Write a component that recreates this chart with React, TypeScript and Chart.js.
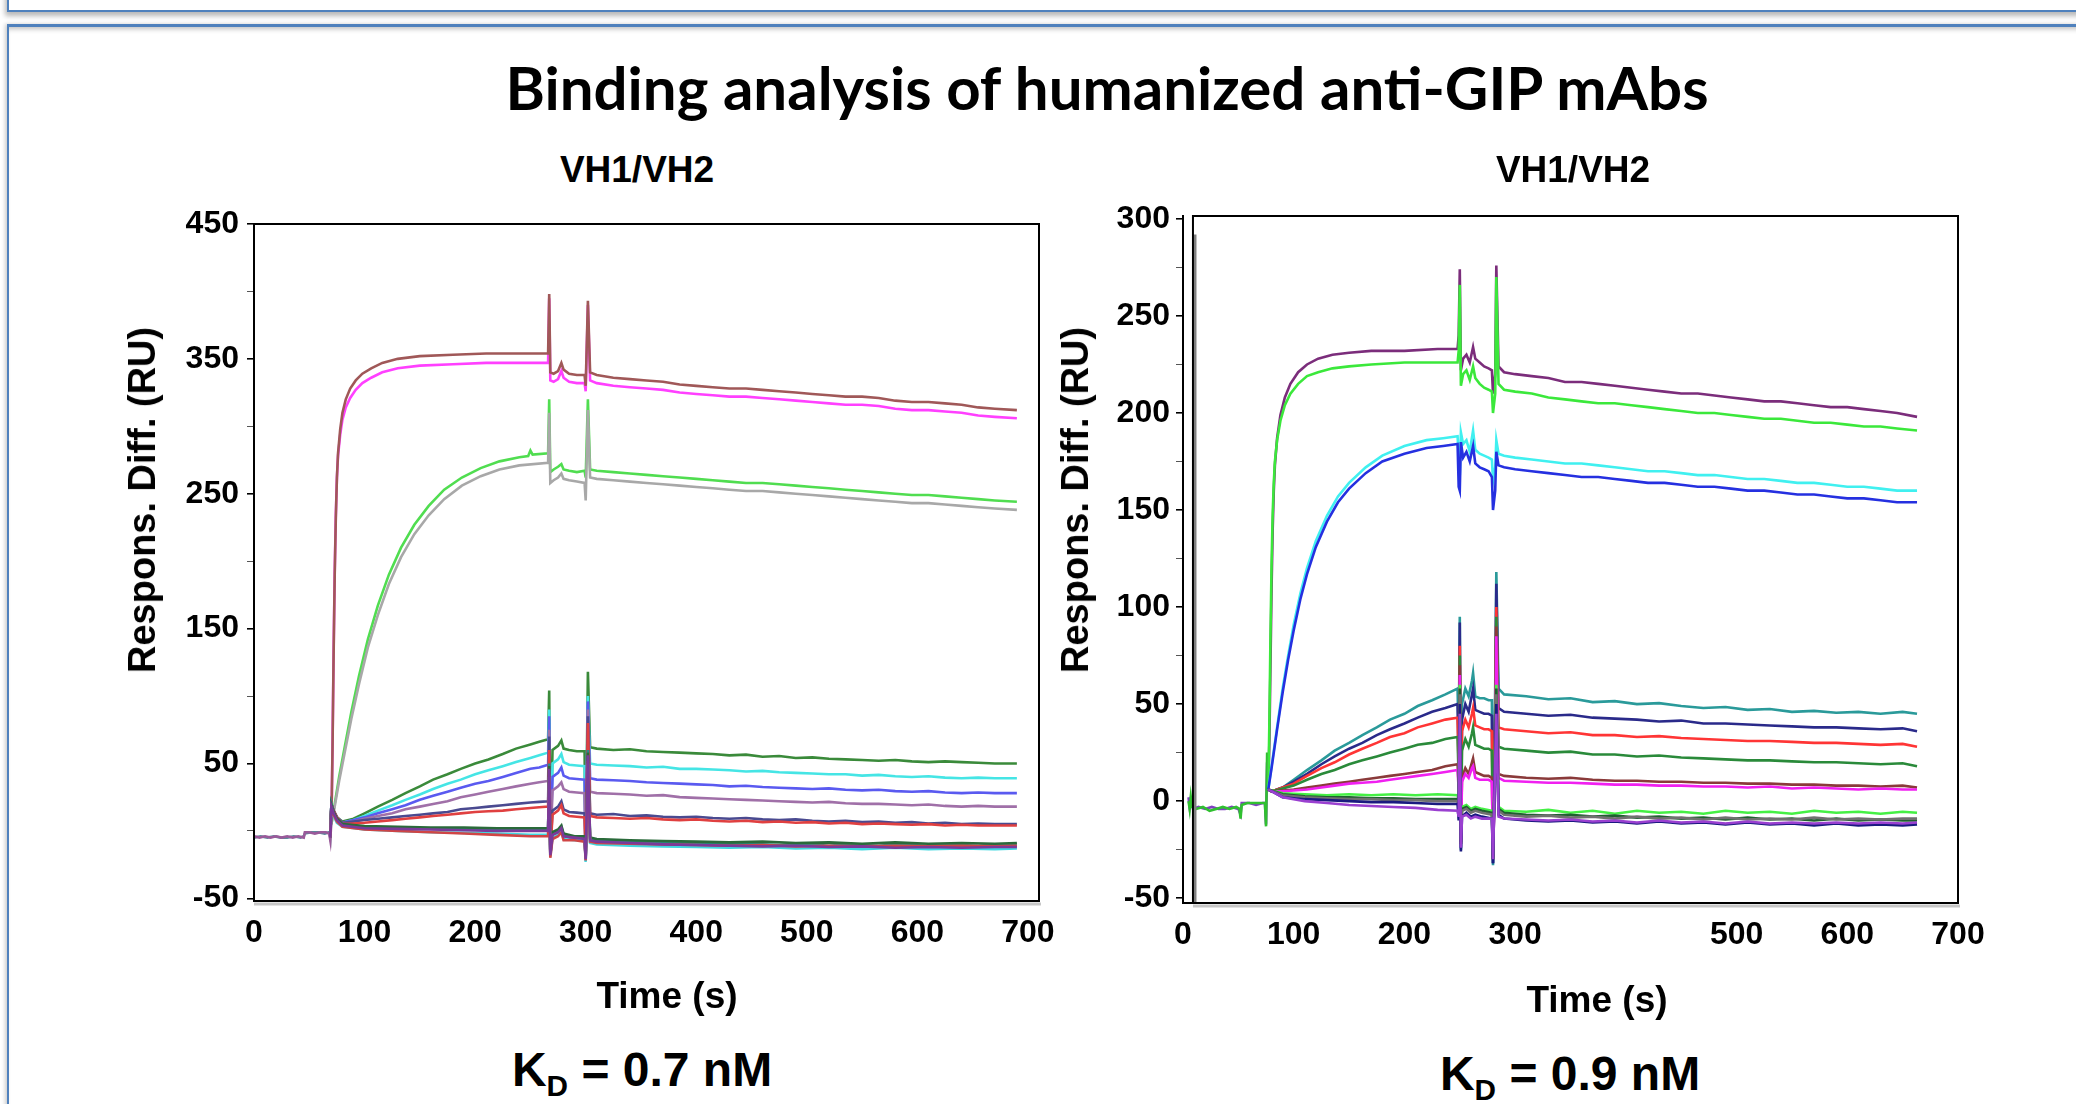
import React, { useEffect, useRef } from "react";
import { Chart, registerables } from "chart.js";
Chart.register(...registerables);

type P = [number, number];

// ================= LEFT PANEL (KD = 0.7 nM) =================
const leftXTicks = [0, 100, 200, 300, 400, 500, 600, 700];
const leftYTicks = [-50, 50, 150, 250, 350, 450];
const leftYMinorTicks = [0, 100, 200, 300, 400];

const L_baseA: P[] = [[0,-4],[5,-5],[10,-4],[15,-5],[20,-4],[25,-5],[30,-4],[35,-5],[40,-4],[45,-5],[46,-1],[50,-1],[55,-2],[60,-1],[65,-1],[68,-2],[69,-7],[70,8]];
const L_baseB: P[] = [[0,-5],[6,-4],[12,-5],[18,-4],[24,-5],[30,-5],[36,-4],[42,-5],[45,-4],[46,-2],[52,-1],[58,-1],[64,-2],[68,-1],[69,-5],[70,12]];

const L_brown: P[] = [[70,5],[71,60],[72,130],[73,190],[74,232],[75,262],[76,280],[78,298],[80,310],[83,320],[87,328],[92,334],[98,339],[106,343],[116,347],[130,350],[150,352],[180,353],[210,354],[240,354],[266,354],[267,398],[268,340],[271,339],[275,341],[278,347],[280,342],[285,339],[292,338],[299,338],[300,330],[302,393],[304,340],[310,338],[325,336],[340,335],[355,334],[370,333],[385,331],[400,330],[415,329],[430,328],[445,328],[460,327],[475,326],[490,325],[505,324],[520,323],[535,322],[550,322],[565,321],[580,319],[595,318],[610,318],[625,317],[640,316],[655,314],[670,313],[690,312]];
const L_magenta: P[] = [[70,5],[71,62],[72,133],[73,192],[74,234],[75,262],[76,278],[78,294],[80,305],[83,314],[87,321],[92,327],[98,332],[106,336],[116,340],[130,343],[150,345],[180,346],[210,347],[240,347],[266,347],[267,395],[268,334],[271,333],[275,335],[278,341],[280,336],[285,333],[292,332],[299,332],[300,326],[302,390],[304,334],[310,332],[325,330],[340,329],[355,328],[370,327],[385,325],[400,324],[415,323],[430,322],[445,322],[460,321],[475,320],[490,319],[505,318],[520,317],[535,316],[550,316],[565,315],[580,313],[595,312],[610,312],[625,311],[640,310],[655,308],[670,307],[690,306]];
const L_green: P[] = [[70,5],[73,20],[77,40],[82,62],[88,88],[95,115],[103,142],[112,167],[122,190],[133,210],[145,227],[158,241],[172,253],[188,262],[205,269],[222,274],[240,277],[248,278],[250,282],[252,279],[266,280],[267,320],[268,266],[271,268],[275,270],[278,272],[280,268],[285,267],[292,266],[299,267],[300,262],[302,320],[304,268],[310,267],[325,266],[340,265],[355,264],[370,263],[385,262],[400,261],[415,260],[430,259],[445,258],[460,258],[475,257],[490,256],[505,255],[520,254],[535,253],[550,252],[565,251],[580,250],[595,249],[610,249],[625,248],[640,247],[655,246],[670,245],[690,244]];
const L_gray: P[] = [[70,5],[73,18],[77,37],[82,58],[88,83],[95,109],[103,136],[112,160],[122,183],[133,203],[145,220],[158,234],[172,246],[188,256],[205,263],[222,268],[240,271],[266,273],[267,310],[268,258],[271,260],[275,262],[278,265],[280,261],[285,260],[292,259],[299,258],[300,245],[302,312],[304,262],[310,261],[325,260],[340,259],[355,258],[370,257],[385,256],[400,255],[415,254],[430,253],[445,252],[460,252],[475,251],[490,250],[505,249],[520,248],[535,247],[550,246],[565,245],[580,244],[595,243],[610,243],[625,242],[640,241],[655,240],[670,239],[690,238]];

const L_dkgreen: P[] = [[69,-5],[70,20],[72,15],[75,10],[80,7],[90,9],[100,13],[112,18],[125,23],[137,28],[150,33],[162,38],[175,42],[187,46],[200,50],[212,53],[225,57],[237,61],[250,64],[258,66],[266,68],[267,104],[268,-14],[270,60],[275,63],[278,67],[280,61],[285,60],[292,59],[299,59],[300,-18],[302,118],[304,62],[310,61],[325,60],[340,60.5],[355,59],[370,58.5],[385,58],[400,57.5],[415,57],[430,56],[445,56.5],[460,55],[475,55.5],[490,54],[505,54.5],[520,53.5],[535,53],[550,52.5],[565,52],[580,52.5],[595,51.5],[610,51],[625,51.5],[640,51],[655,50.5],[670,50],[690,50]];
const L_cyan: P[] = [[69,-5],[70,20],[72,15],[75,10],[80,6],[90,8],[100,11],[112,15],[125,19],[137,23],[150,27],[162,31],[175,35],[187,38],[200,42],[212,45],[225,48],[237,51],[250,54],[258,56],[266,58],[267,90],[268,-16],[270,50],[275,53],[278,57],[280,51],[285,49],[292,48.5],[299,48],[300,-20],[302,100],[304,50],[310,49],[325,48.5],[340,48],[355,47],[370,47.5],[385,46],[400,46],[415,45.5],[430,45],[445,44],[460,44.5],[475,43.5],[490,43],[505,42.5],[520,42],[535,42],[550,41],[565,41.5],[580,40.5],[595,40],[610,40.5],[625,39.5],[640,39],[655,39.5],[670,39],[690,39]];
const L_blue: P[] = [[69,-5],[70,20],[72,15],[75,10],[80,6],[90,8],[100,10],[112,13],[125,16],[137,19],[150,23],[162,26],[175,29],[187,32],[200,35],[212,37],[225,40],[237,43],[250,46],[258,47],[266,49],[267,85],[268,-15],[270,40],[275,43],[278,47],[280,41],[285,39],[292,38.5],[299,38],[300,-19],[302,96],[304,39],[310,38],[325,37.5],[340,37],[355,36],[370,35.5],[385,35],[400,34.5],[415,34],[430,33],[445,33.5],[460,32.5],[475,32],[490,31.5],[505,31],[520,31.5],[535,30.5],[550,30],[565,30.5],[580,29.5],[595,29],[610,29.5],[625,28.5],[640,28],[655,28.5],[670,28],[690,28]];
const L_purple: P[] = [[69,-5],[70,20],[72,15],[75,10],[80,6],[90,7],[100,9],[112,11],[125,13],[137,16],[150,18],[162,20],[175,22],[187,25],[200,27],[212,29],[225,31],[237,33],[250,35],[258,36],[266,37],[267,75],[268,-15],[270,30],[275,33],[278,36],[280,31],[285,29],[292,28.5],[299,28],[300,-19],[302,90],[304,29],[310,28],[325,27.5],[340,27],[355,26],[370,26.5],[385,25],[400,24.5],[415,24],[430,23.5],[445,23],[460,22.5],[475,22],[490,21.5],[505,21],[520,21.5],[535,20.5],[550,20],[565,20],[580,19.5],[595,19],[610,19.5],[625,18.5],[640,18],[655,18.5],[670,18],[690,18]];
const L_navy: P[] = [[69,-5],[70,20],[72,15],[75,10],[80,6],[90,7],[100,8],[112,9],[125,10],[137,11],[150,12],[162,13],[175,14],[187,16],[200,17],[212,18],[225,19],[237,20],[250,21],[258,21.5],[266,22],[267,70],[268,-15],[270,15],[275,18],[278,22],[280,16],[285,14],[292,13.5],[299,13],[300,-19],[302,85],[304,13],[310,12],[325,12.5],[340,11],[355,11.5],[370,10.5],[385,10],[400,10.5],[415,9.5],[430,9],[445,9.5],[460,8.5],[475,8],[490,8.5],[505,7.5],[520,7],[535,7.5],[550,6.5],[565,7],[580,6],[595,6.5],[610,5.5],[625,6],[640,5],[655,5.5],[670,5],[690,5]];
const L_red: P[] = [[69,-5],[70,20],[72,15],[75,10],[80,5],[90,5.5],[100,6],[112,7],[125,8],[137,9],[150,10],[162,11],[175,12],[187,13],[200,14],[212,14.5],[225,15],[237,16],[250,17],[258,17.5],[266,18],[267,60],[268,-17],[270,12],[275,15],[278,19],[280,13],[285,11],[292,10.5],[299,10],[300,-20],[302,80],[304,11],[310,10],[325,9.5],[340,9],[355,9.5],[370,8.5],[385,8],[400,8.5],[415,7.5],[430,7],[445,7.5],[460,6.5],[475,7],[490,6],[505,6.5],[520,5.5],[535,6],[550,5],[565,5.5],[580,5],[595,4.5],[610,5],[625,4],[640,4.5],[655,4],[670,4],[690,4]];

const L_bTeal: P[] = [[69,-5],[70,20],[72,14],[75,9],[80,5],[90,4],[100,3],[125,2.5],[150,2],[175,2],[200,1.5],[225,1],[250,1],[266,1],[267,50],[268,-17],[270,-2],[275,0],[278,3],[280,-3],[285,-4],[292,-5],[299,-5],[300,-21],[302,60],[304,-6],[310,-7],[325,-7.5],[340,-8],[355,-8.5],[370,-9],[385,-8.5],[400,-9.5],[415,-9],[430,-10],[445,-9.5],[460,-10],[475,-10.5],[490,-9.5],[505,-10],[520,-11],[535,-10],[550,-10.5],[565,-11],[580,-10],[595,-10.5],[610,-11],[625,-10],[640,-10.5],[655,-11],[670,-10],[690,-10]];
const L_bMagenta: P[] = [[69,-5],[70,18],[72,13],[75,8],[80,4],[100,2.5],[130,2],[160,1.5],[190,1],[220,0.5],[250,0.5],[266,0.5],[267,45],[268,-18],[270,-3],[275,-1],[278,2],[280,-4],[290,-6],[299,-6],[300,-22],[302,55],[304,-8],[310,-9],[340,-10],[370,-10.5],[400,-11],[430,-11.5],[460,-11],[490,-12],[520,-11.5],[550,-12.5],[580,-11.5],[610,-12.5],[640,-12],[670,-12.5],[690,-12]];
const L_bCyan: P[] = [[69,-5],[70,16],[72,11],[75,6],[80,3],[100,1],[130,0],[160,-1],[190,-1.5],[220,-2],[250,-3],[266,-3],[267,40],[268,-19],[270,-5],[275,-3],[278,0],[280,-6],[290,-7],[299,-7],[300,-23],[302,50],[304,-9],[310,-10],[340,-11],[370,-11.5],[400,-12],[430,-12.5],[460,-12],[490,-13],[520,-12.5],[550,-13.5],[580,-12.5],[610,-13.5],[640,-13],[670,-13.5],[690,-13]];
const L_bDkgreen: P[] = [[69,-5],[70,19],[72,14],[75,9],[80,5],[100,3.5],[130,3],[160,2.5],[190,2.5],[220,2],[250,2],[266,2],[267,48],[268,-16],[270,-1],[275,1],[278,4],[280,-2],[290,-4],[299,-4],[300,-20],[302,58],[304,-5],[310,-6],[340,-7],[370,-7.5],[400,-8],[430,-8.5],[460,-8],[490,-9],[520,-8.5],[550,-9.5],[580,-8.5],[610,-9.5],[640,-9],[670,-9.5],[690,-9]];
const L_bRed: P[] = [[69,-5],[70,17],[72,12],[75,7],[80,3],[100,1],[130,0],[160,-1],[190,-2],[220,-3],[250,-4],[266,-4],[267,42],[268,-20],[270,-6],[275,-4],[278,-1],[280,-7],[290,-7],[299,-8],[300,-22],[302,52],[304,-8],[310,-9],[340,-9.5],[370,-10],[400,-10.5],[430,-11],[460,-10.5],[490,-11.5],[520,-11],[550,-11.5],[580,-11],[610,-11.5],[640,-11],[670,-11.5],[690,-11]];
const L_bPurple: P[] = [[69,-5],[70,18],[72,13],[75,8],[80,4],[100,2],[130,1.5],[160,1],[190,0.5],[220,0],[250,0],[266,0],[267,46],[268,-18],[270,-3],[275,-1],[278,2],[280,-4],[290,-5],[299,-6],[300,-21],[302,56],[304,-7],[310,-8],[340,-9],[370,-10],[400,-10.5],[430,-11],[460,-11.5],[490,-11],[520,-12],[550,-11.5],[580,-12.5],[610,-12],[640,-12.5],[670,-12],[690,-12]];

// ================= RIGHT PANEL (KD = 0.9 nM) =================
const rightXTicks = [0, 100, 200, 300, 500, 600, 700];
const rightYTicks = [-50, 0, 50, 100, 150, 200, 250, 300];
const rightYMinorTicks = [-25, 25, 75, 125, 175, 225, 275];

const R_baseA: P[] = [[5,0],[6,-4],[7,2],[8,-3],[12,-4],[18,-3],[24,-5],[30,-4],[36,-3],[42,-4],[48,-3],[51,-4],[52,-9],[53,-2],[58,-1],[64,-1],[70,-1],[74,-1],[75,-13],[76,25],[77,6]];
const R_baseB: P[] = [[5,2],[6,-3],[7,1],[9,-4],[14,-3],[20,-4],[26,-3],[32,-4],[38,-4],[44,-3],[50,-4],[52,-7],[53,-1],[60,-1],[66,-2],[72,-1],[74,-1],[75,-12],[76,20],[77,5]];
const R_artifact: P[] = [[11,-53],[11,292]];

const R_purple: P[] = [[77,6],[78,30],[79,70],[80,110],[81,140],[82,160],[83,173],[85,187],[88,199],[92,208],[97,215],[104,221],[112,225],[122,228],[135,230],[150,231],[170,232],[200,232],[230,233],[248,233],[249,240],[250,274],[251,222],[253,228],[256,230],[259,226],[262,234],[264,228],[268,226],[272,224],[276,223],[279,222],[280,210],[282,220],[283,276],[285,224],[290,221],[300,220],[315,219],[330,218],[345,216],[360,216],[375,215],[390,214],[405,213],[420,212],[435,211],[450,210],[465,210],[480,209],[495,208],[510,207],[525,206],[540,206],[555,205],[570,204],[585,203],[600,203],[615,202],[630,201],[645,200],[663,198]];
const R_green: P[] = [[77,6],[78,40],[79,85],[80,122],[81,148],[82,164],[83,175],[85,186],[88,196],[92,204],[97,210],[104,215],[112,219],[122,221],[135,223],[150,224],[170,225],[200,226],[230,226],[248,226],[249,232],[250,266],[251,214],[253,220],[256,222],[259,217],[262,224],[264,218],[268,215],[272,213],[276,212],[279,211],[280,200],[282,210],[283,270],[285,215],[290,212],[300,211],[315,210],[330,208],[345,207],[360,206],[375,205],[390,205],[405,204],[420,203],[435,202],[450,201],[465,200],[480,200],[495,199],[510,198],[525,197],[540,197],[555,196],[570,195],[585,195],[600,194],[615,193],[630,193],[645,192],[663,191]];
const R_cyan: P[] = [[77,6],[80,18],[85,38],[90,58],[95,75],[100,91],[106,107],[112,120],[120,134],[130,147],[140,157],[150,164],[165,172],[180,178],[200,183],[220,186],[235,187],[248,188],[249,178],[250,168],[251,190],[253,184],[256,186],[259,180],[262,191],[264,181],[268,179],[272,178],[276,177],[279,176],[280,165],[282,172],[283,186],[285,179],[290,178],[300,177],[315,176],[330,175],[345,174],[360,174],[375,173],[390,172],[405,171],[420,170],[435,170],[450,169],[465,168],[480,168],[495,167],[510,166],[525,166],[540,165],[555,164],[570,164],[585,163],[600,162],[615,162],[630,161],[645,160],[663,160]];
const R_blue: P[] = [[77,6],[80,17],[85,37],[90,56],[95,73],[100,88],[106,104],[112,117],[120,131],[130,144],[140,154],[150,161],[165,169],[180,175],[200,179],[220,182],[235,183],[248,184],[249,162],[250,160],[251,185],[253,177],[256,180],[259,175],[262,183],[264,174],[268,172],[272,171],[276,170],[279,167],[280,150],[282,160],[283,180],[285,173],[290,172],[300,171],[315,170],[330,169],[345,168],[360,167],[375,167],[390,166],[405,165],[420,164],[435,164],[450,163],[465,162],[480,162],[495,161],[510,160],[525,160],[540,159],[555,158],[570,158],[585,157],[600,156],[615,156],[630,155],[645,154],[663,154]];

const R_teal: P[] = [[77,6],[80,5],[90,7],[100,11],[112,16],[125,21],[137,26],[150,30],[162,34],[175,38],[187,42],[200,45],[212,49],[225,52],[237,55],[248,58],[249,30],[250,95],[251,-25],[252,50],[255,58],[258,54],[261,62],[262,66],[264,54],[268,53],[272,53],[276,52],[279,52],[280,-33],[282,60],[283,118],[285,58],[290,55],[310,54],[330,52.5],[350,53],[370,51],[390,51.5],[410,50],[430,50.5],[450,49],[470,48],[490,48.5],[510,47],[530,47.5],[550,46],[570,46.5],[590,45.5],[610,46],[630,45],[650,46],[663,45]];
const R_navy: P[] = [[77,6],[80,5],[90,7],[100,10],[112,14],[125,19],[137,23],[150,27],[162,30],[175,34],[187,37],[200,40],[212,43],[225,46],[237,48],[248,50],[249,20],[250,92],[251,-24],[252,42],[255,50],[258,46],[261,55],[262,58],[264,47],[268,46],[272,45],[276,45],[279,44],[280,-32],[282,50],[283,112],[285,48],[290,46],[310,45],[330,44],[350,44.5],[370,43],[390,42.5],[410,42],[430,41],[450,41.5],[470,40],[490,40],[510,39.5],[530,39],[550,38.5],[570,38],[590,38],[610,37.5],[630,37],[650,37.5],[663,36]];
const R_red: P[] = [[77,6],[80,5],[90,7],[100,9],[112,13],[125,17],[137,20],[150,24],[162,27],[175,30],[187,33],[200,35],[212,38],[225,40],[237,42],[248,43],[249,15],[250,80],[251,-22],[252,36],[255,42],[258,38],[261,45],[262,48],[264,39],[268,38],[272,37],[276,37],[279,36],[280,-30],[282,42],[283,100],[285,38],[290,37],[310,36],[330,35],[350,35.5],[370,34],[390,34],[410,33],[430,33.5],[450,32.5],[470,32],[490,31.5],[510,31],[530,31],[550,30.5],[570,30],[590,30],[610,29.5],[630,29],[650,29.5],[663,28]];
const R_green2: P[] = [[77,6],[80,5],[90,6.5],[100,8],[112,11],[125,14],[137,16],[150,19],[162,21],[175,23],[187,25],[200,27],[212,29],[225,30],[237,32],[248,33],[249,10],[250,75],[251,-22],[252,26],[255,32],[258,28],[261,35],[262,38],[264,29],[268,28],[272,27],[276,27],[279,26],[280,-30],[282,32],[283,95],[285,28],[290,27],[310,26],[330,25],[350,25.5],[370,24],[390,24],[410,23],[430,23.5],[450,22.5],[470,22],[490,21.5],[510,21],[530,21],[550,20.5],[570,20],[590,20],[610,19.5],[630,19],[650,19.5],[663,18]];
const R_brown: P[] = [[77,6],[80,5],[90,5.5],[100,6],[112,7],[125,8],[137,9],[150,10],[162,11],[175,12],[187,13],[200,14],[212,15],[225,16],[237,18],[248,19],[249,8],[250,70],[251,-20],[252,12],[255,17],[258,14],[261,20],[262,22],[264,15],[268,14],[272,13],[276,13],[279,12],[280,-28],[282,18],[283,90],[285,14],[290,13],[310,12],[330,11.5],[350,12],[370,11],[390,10.5],[410,10.5],[430,10],[450,10],[470,9.5],[490,9.5],[510,9],[530,9],[550,8.5],[570,8.5],[590,8],[610,8],[630,7.5],[650,8],[663,7]];
const R_magenta: P[] = [[77,6],[80,5],[90,5],[100,5.5],[112,6],[125,7],[137,8],[150,9],[162,9.5],[175,10],[187,11],[200,12],[212,13],[225,14],[237,15],[248,16],[249,6],[250,65],[251,-20],[252,10],[255,14],[258,12],[261,17],[262,18],[264,12],[268,11],[272,11],[276,11],[279,10],[280,-28],[282,15],[283,85],[285,12],[290,10.5],[310,10],[330,9.5],[350,9.5],[370,9],[390,8.5],[410,8.5],[430,8],[450,8],[470,7.5],[490,7.5],[510,7],[530,7.5],[550,6.5],[570,7],[590,6.5],[610,6],[630,6.5],[650,6],[663,6]];

const R_bLime: P[] = [[77,6],[90,4],[110,3.5],[130,3],[150,3.5],[170,3],[190,3.5],[210,3],[230,3.5],[248,3],[249,0],[250,60],[251,-20],[252,-3],[256,-2],[260,-4],[264,-3],[270,-4],[279,-5],[280,-28],[283,60],[285,-3],[290,-5],[310,-5.5],[330,-4.5],[350,-6],[370,-5],[390,-6.5],[410,-5],[430,-6],[450,-5.5],[470,-6.5],[490,-5],[510,-6],[530,-5.5],[550,-6.5],[570,-5],[590,-6],[610,-5.5],[630,-6.5],[650,-5.5],[663,-6]];
const R_bGray: P[] = [[77,6],[90,3],[110,2],[130,1.5],[150,1],[170,1],[190,0.5],[210,0.5],[230,0],[248,0],[249,-3],[250,55],[251,-22],[252,-5],[256,-4],[260,-6],[264,-5],[270,-6],[279,-7],[280,-30],[283,55],[285,-5],[290,-7],[310,-8],[330,-7.5],[350,-8.5],[370,-8],[390,-9],[410,-8],[430,-9],[450,-8.5],[470,-9.5],[490,-8.5],[510,-9.5],[530,-9],[550,-9.5],[570,-8.5],[590,-9.5],[610,-9],[630,-9.5],[650,-9],[663,-9]];
const R_bNavy: P[] = [[77,6],[90,2],[110,1],[130,0.5],[150,0],[170,-0.5],[190,-0.5],[210,-1],[230,-1.5],[248,-1.5],[249,-10],[250,50],[251,-26],[252,-8],[256,-6],[260,-8],[264,-7],[270,-8],[279,-9],[280,-32],[283,50],[285,-7],[290,-9],[310,-10],[330,-10.5],[350,-10],[370,-11],[390,-10.5],[410,-11.5],[430,-10.5],[450,-11.5],[470,-11],[490,-12],[510,-11],[530,-12],[550,-11.5],[570,-12.5],[590,-11.5],[610,-12.5],[630,-12],[650,-12.5],[663,-12]];
const R_bPurple: P[] = [[77,6],[90,2],[110,0],[130,-1],[150,-2],[170,-2.5],[190,-3],[210,-3.5],[230,-4.5],[248,-5],[249,-8],[250,45],[251,-24],[252,-8],[256,-7],[260,-9],[264,-8],[270,-9],[279,-9],[280,-30],[283,45],[285,-8],[290,-9],[310,-9.5],[330,-10],[350,-9.5],[370,-10.5],[390,-10],[410,-11],[430,-10],[450,-11],[470,-10.5],[490,-11.5],[510,-10.5],[530,-11.5],[550,-11],[570,-11.5],[590,-11],[610,-11.5],[630,-11],[650,-11.5],[663,-11]];
const R_bDkgreen: P[] = [[77,6],[90,3.5],[110,2.5],[130,2],[150,2],[170,1.5],[190,1.5],[210,1],[230,1],[248,1],[249,-2],[250,58],[251,-21],[252,-4],[256,-3],[260,-5],[264,-4],[270,-5],[279,-6],[280,-29],[283,58],[285,-4],[290,-6],[310,-7],[330,-7.5],[350,-7],[370,-8],[390,-7.5],[410,-8.5],[430,-8],[450,-9],[470,-8.5],[490,-9.5],[510,-8.5],[530,-9.5],[550,-9],[570,-10],[590,-9],[610,-10],[630,-9.5],[650,-10],[663,-10]];

// ----- series styling -----
const leftSeries = [
  { name: "L_bPurple", color: "#7a3a9a", data: L_bPurple },
  { name: "L_bRed", color: "#d04545", data: L_bRed },
  { name: "L_bCyan", color: "#40d8e0", data: L_bCyan },
  { name: "L_bDkgreen", color: "#2a6a3a", data: L_bDkgreen },
  { name: "L_bTeal", color: "#2a8a8a", data: L_bTeal },
  { name: "L_bMagenta", color: "#b0208a", data: L_bMagenta },
  { name: "L_red", color: "#e04040", data: L_red },
  { name: "L_navy", color: "#4a4a90", data: L_navy },
  { name: "L_purple", color: "#a070a8", data: L_purple },
  { name: "L_blue", color: "#5a5af0", data: L_blue },
  { name: "L_cyan", color: "#45e5e5", data: L_cyan },
  { name: "L_dkgreen", color: "#3a8a3a", data: L_dkgreen },
  { name: "L_gray", color: "#a8a8a8", data: L_gray },
  { name: "L_green", color: "#50dd50", data: L_green },
  { name: "L_brown", color: "#a05858", data: L_brown },
  { name: "L_magenta", color: "#ff40ff", data: L_magenta },
  { name: "L_baseA", color: "#9a5a9a", data: L_baseA },
  { name: "L_baseB", color: "#5a8a9a", data: L_baseB },
];

const rightSeries = [
  { name: "R_artifact", color: "#808080", data: R_artifact },
  { name: "R_bPurple", color: "#9a40d0", data: R_bPurple },
  { name: "R_bNavy", color: "#1a1a80", data: R_bNavy },
  { name: "R_bGray", color: "#707070", data: R_bGray },
  { name: "R_bDkgreen", color: "#1f5f2f", data: R_bDkgreen },
  { name: "R_bLime", color: "#45f045", data: R_bLime },
  { name: "R_magenta", color: "#f020f0", data: R_magenta },
  { name: "R_brown", color: "#8a3a3a", data: R_brown },
  { name: "R_green2", color: "#2a8a3a", data: R_green2 },
  { name: "R_red", color: "#ff3535", data: R_red },
  { name: "R_navy", color: "#2a2a8a", data: R_navy },
  { name: "R_teal", color: "#2a9a9a", data: R_teal },
  { name: "R_blue", color: "#2530e0", data: R_blue },
  { name: "R_cyan", color: "#40f0f0", data: R_cyan },
  { name: "R_green", color: "#3be83b", data: R_green },
  { name: "R_purple", color: "#7b2d7b", data: R_purple },
  { name: "R_baseA", color: "#30c030", data: R_baseA },
  { name: "R_baseB", color: "#8040c0", data: R_baseB },
];

const framePlugin = {
  id: "frame",
  afterDraw(chart: any, _args: any, opts: any) {
    const { ctx, chartArea: a, scales } = chart;
    const left = scales.x.getPixelForValue(opts.leftValue ?? 0);
    ctx.save();
    ctx.strokeStyle = "rgba(0,0,0,0.22)";
    ctx.lineWidth = 3;
    ctx.beginPath();
    ctx.moveTo(left, a.bottom + 3);
    ctx.lineTo(a.right + 2, a.bottom + 3);
    ctx.stroke();
    ctx.strokeStyle = "#000";
    ctx.lineWidth = 2;
    ctx.strokeRect(left, a.top, a.right - left, a.bottom - a.top);
    ctx.restore();
  },
};

const tickFont = { family: "'Liberation Sans', Arial, sans-serif", size: 32, weight: "bold" as const };

type PanelSpec = {
  left: number; top: number; w: number; h: number;
  yWidth: number; padTop: number; padRight: number; padBottom: number;
  xMin: number; xMax: number; yMin: number; yMax: number;
  xTicks: number[]; yTicks: number[]; yMinor: number[]; frameLeft: number; yPad: number;
  series: { name: string; color: string; data: P[] }[];
};

function Panel({ spec }: { spec: PanelSpec }) {
  const ref = useRef<HTMLCanvasElement>(null);
  useEffect(() => {
    const allY = [...spec.yTicks, ...spec.yMinor].sort((a, b) => a - b);
    const chart = new Chart(ref.current!, {
      type: "line",
      data: {
        datasets: spec.series.map((s) => ({
          label: s.name,
          data: s.data.map(([x, y]) => ({ x, y })),
          borderColor: s.color,
          borderWidth: 2.6,
          pointRadius: 0,
          fill: false,
          tension: 0,
        })),
      },
      options: {
        animation: false,
        responsive: false,
        maintainAspectRatio: false,
        devicePixelRatio: 1,
        layout: { padding: { left: 0, top: spec.padTop, right: spec.padRight, bottom: spec.padBottom } },
        plugins: {
          legend: { display: false },
          tooltip: { enabled: false },
          frame: { leftValue: spec.frameLeft },
        } as any,
        scales: {
          x: {
            type: "linear",
            min: spec.xMin,
            max: spec.xMax,
            afterBuildTicks: (s: any) => { s.ticks = spec.xTicks.map((v) => ({ value: v })); },
            afterFit: (s: any) => { s.height = 60; s.paddingLeft = 0; s.paddingRight = 0; },
            ticks: { font: tickFont, color: "#000", padding: 13, autoSkip: false, maxRotation: 0 },
            grid: { display: false, drawTicks: false },
            border: { display: true, color: "#000", width: 2 },
          },
          y: {
            type: "linear",
            min: spec.yMin,
            max: spec.yMax,
            afterBuildTicks: (s: any) => { s.ticks = allY.map((v) => ({ value: v })); },
            afterFit: (s: any) => { s.width = spec.yWidth; s.paddingTop = 0; s.paddingBottom = 0; },
            ticks: {
              font: tickFont, color: "#000", padding: spec.yPad, autoSkip: false,
              callback: (v: any) => (spec.yTicks.includes(Number(v)) ? String(v) : ""),
            },
            grid: {
              display: true, drawOnChartArea: false, drawTicks: true, tickLength: 7,
              color: (c: any) => (c.tick && spec.yTicks.includes(c.tick.value) ? "#000" : "#555"),
              lineWidth: (c: any) => (c.tick && spec.yTicks.includes(c.tick.value) ? 1.6 : 1),
            },
            border: { display: true, color: "#000", width: 2 },
          },
        },
      } as any,
      plugins: [framePlugin],
    });
    return () => chart.destroy();
  }, []);
  return (
    <canvas
      ref={ref}
      width={spec.w}
      height={spec.h}
      style={{ position: "absolute", left: spec.left, top: spec.top, width: spec.w, height: spec.h }}
    />
  );
}

const leftSpec: PanelSpec = {
  left: 160, top: 190, w: 900, h: 800,
  yWidth: 94, padTop: 34, padRight: 21, padBottom: 29,
  xMin: 0, xMax: 710, yMin: -52, yMax: 450,
  xTicks: leftXTicks, yTicks: leftYTicks, yMinor: leftYMinorTicks, frameLeft: 0, yPad: 8,
  series: leftSeries,
};

const rightSpec: PanelSpec = {
  left: 1090, top: 180, w: 970, h: 810,
  yWidth: 93, padTop: 36, padRight: 102, padBottom: 27,
  xMin: 0, xMax: 700, yMin: -52.5, yMax: 301.5,
  xTicks: rightXTicks, yTicks: rightYTicks, yMinor: rightYMinorTicks, frameLeft: 9, yPad: 6,
  series: rightSeries,
};

const arial = "'Liberation Sans', Arial, sans-serif";

function Text({ x, y, size, children, family = arial, rotate = 0 }: any) {
  return (
    <div
      style={{
        position: "absolute",
        left: x,
        top: y,
        transform: `translate(-50%, -50%)${rotate ? ` rotate(${rotate}deg)` : ""}`,
        fontFamily: family,
        fontWeight: 700,
        fontSize: size,
        lineHeight: 1,
        whiteSpace: "nowrap",
        color: "#000",
      }}
    >
      {children}
    </div>
  );
}

function KD({ x, y, value }: { x: number; y: number; value: string }) {
  return (
    <Text x={x} y={y} size={48}>
      K<span style={{ fontSize: "0.62em", position: "relative", top: "0.32em" }}>D</span> = {value} nM
    </Text>
  );
}

export default function App() {
  useEffect(() => {
    document.body.style.margin = "0";
  }, []);
  return (
    <div style={{ position: "fixed", left: 0, top: 0, width: 2076, height: 1104, overflow: "hidden", background: "#fff" }}>
      <div style={{ position: "absolute", left: 7, top: -12, width: 2100, height: 20, border: "2.5px solid #4F81BD", boxShadow: "-2px 4px 5px rgba(0,0,0,0.28)" }} />
      <div style={{ position: "absolute", left: 7, top: 24, width: 2100, height: 1200, borderTop: "3px solid #4F81BD", borderLeft: "2.5px solid #4F81BD", boxShadow: "inset 0 5px 5px -3px rgba(0,0,0,0.25), -2px 0 4px rgba(0,0,0,0.2)" }} />
      <Panel spec={leftSpec} />
      <Panel spec={rightSpec} />
      <Text x={1107} y={87} size={60} family="Lato, 'Open Sans', sans-serif">Binding analysis of humanized anti-GIP mAbs</Text>
      <Text x={637} y={169} size={37}>VH1/VH2</Text>
      <Text x={1573} y={169} size={37}>VH1/VH2</Text>
      <Text x={142} y={500} size={38} rotate={-90}>Respons. Diff. (RU)</Text>
      <Text x={1075} y={500} size={38} rotate={-90}>Respons. Diff. (RU)</Text>
      <Text x={667} y={995} size={37}>Time (s)</Text>
      <Text x={1597} y={999} size={37}>Time (s)</Text>
      <KD x={642} y={1070} value="0.7" />
      <KD x={1570} y={1074} value="0.9" />
    </div>
  );
}
